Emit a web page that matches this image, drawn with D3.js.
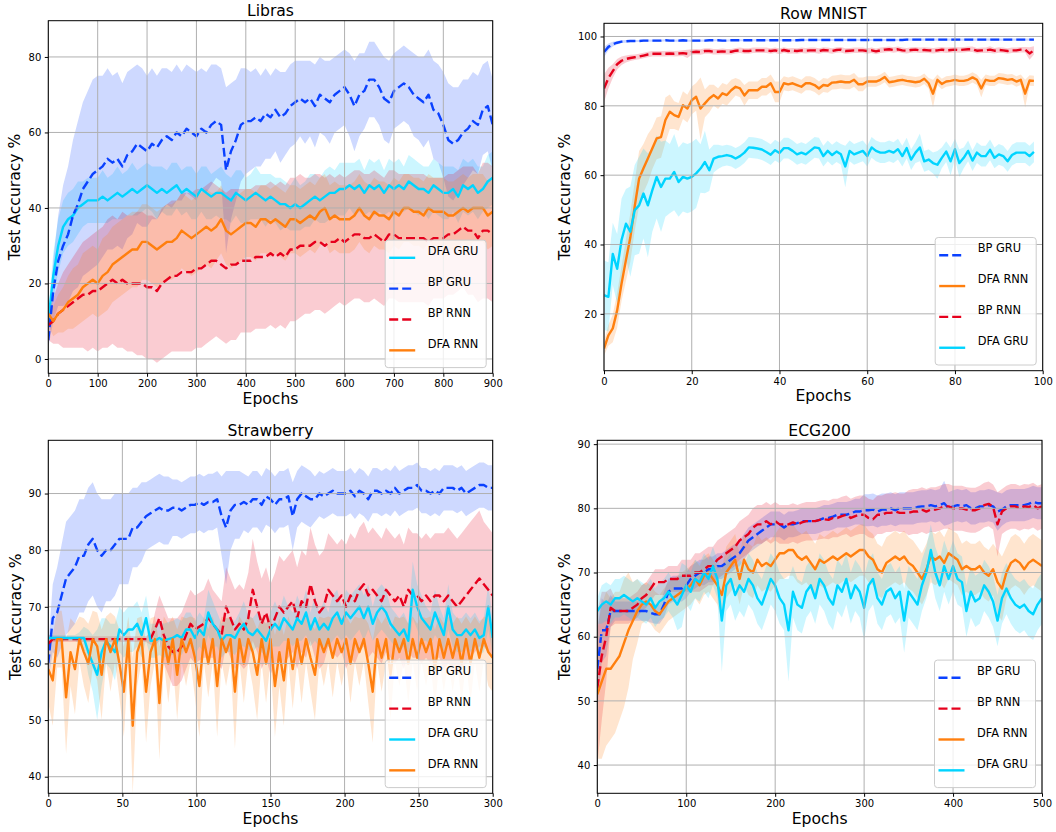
<!DOCTYPE html>
<html>
<head>
<meta charset="utf-8">
<title>DFA vs BP - test accuracy</title>
<script src="https://d3js.org/d3.v7.min.js"></script>
<style>
  body { margin: 0; background: #fff; }
  svg text { font-family: "DejaVu Sans", sans-serif; }
</style>
</head>
<body>
<svg id="chart" width="1056" height="832"></svg>
<script>
// ---------- Libras (one value every 10 epochs) ----------
var librasEpochs = d3.range(0, 901, 10);
var librasXTicks = [0, 100, 200, 300, 400, 500, 600, 700, 800, 900];
var librasYTicks = [0, 20, 40, 60, 80];
var librasBpGru = [5,18,26,30,33,38,41,45,47,49, 50,51,53,52,53,51,54,55,57,56, 55,57,56,58,59,58,60,59,61,60,
  59,61,60,62,63,62,50,55,58,62, 63,63,64,63,65,64,66,64,65,67, 68,69,68,69,67,70,69,68,70,71,
  72,70,67,70,71,74,74,72,69,68, 71,72,73,72,70,69,68,70,66,65, 62,58,57,58,60,61,63,62,66,67, 62];
var librasBpGruSd = [2,8,12,16,18,20,22,23,24,25, 25,24,24,23,23,22,22,22,21,21, 20,20,19,19,18,18,18,17,17,17,
  17,16,16,16,15,15,22,18,16,15, 14,13,13,12,12,11,11,12,11,11, 11,10,11,10,11,10,10,11,10,10,
  10,11,12,11,10,10,10,10,11,11, 10,10,10,10,11,11,12,12,13,13, 14,15,15,14,14,13,13,13,12,12, 12];
var librasDfaGru = [10,22,30,35,37,38,40,41,42,42, 42,43,42,43,44,43,44,45,44,45, 46,45,44,45,44,45,46,44,45,44,
  43,45,44,43,44,44,43,42,44,43, 42,43,44,43,42,43,42,41,41,40, 41,40,41,42,43,42,43,44,44,45,
  45,46,45,46,44,46,45,46,44,46, 45,46,45,47,46,45,45,44,46,45, 44,44,45,43,46,45,46,44,45,47, 48];
var librasDfaGruSd = [3,6,7,7,7,7,7,6,6,6, 6,7,6,6,7,6,6,7,6,6, 6,6,7,6,6,7,6,6,6,7,
  6,6,7,6,6,7,6,6,6,7, 6,6,7,6,7,6,6,7,6,6, 7,6,6,7,6,6,7,7,6,7,
  7,6,7,7,6,7,7,7,6,7, 7,7,6,7,7,7,6,7,7,7, 7,7,6,7,7,7,7,7,6,7, 7];
var librasBpRnn = [9,10,12,13,14,15,16,17,17,18, 18,19,20,21,20,21,20,20,20,20, 19,19,18,20,21,22,22,23,23,23,
  24,24,25,26,26,25,24,25,25,26, 26,26,27,27,27,28,27,28,27,29, 29,30,30,30,31,31,30,31,31,32,
  31,32,33,33,32,32,33,32,31,33, 33,32,32,32,32,32,32,31,32,32, 32,33,33,34,35,34,34,32,34,34, 33];
var librasBpRnnSd = [4,6,8,10,11,12,13,14,15,15, 16,16,17,17,17,18,18,18,19,19, 19,19,19,20,20,20,20,21,21,21,
  21,21,21,21,20,20,20,20,20,19, 19,19,19,19,19,19,19,19,19,19, 19,19,18,18,18,18,18,18,17,17,
  17,17,17,17,17,17,17,17,17,17, 17,17,17,17,17,17,17,17,16,16, 16,16,16,16,16,17,17,17,18,18, 18];
var librasDfaRnn = [12,10,12,13,15,16,17,19,20,21, 20,22,23,25,26,27,28,29,29,31, 31,30,29,30,31,31,32,34,33,32,
  33,34,35,34,35,37,34,33,34,35, 36,36,35,37,37,36,37,36,35,37, 37,36,37,38,37,39,40,37,38,37,
  37,37,38,40,38,37,39,38,38,37, 39,38,40,40,39,39,38,40,39,39, 39,38,38,39,40,39,40,40,40,38, 39];
var librasDfaRnnSd = [3,4,5,6,7,8,8,9,9,9, 9,10,10,10,10,10,10,10,10,10, 10,10,10,10,10,10,10,10,10,10,
  10,10,10,10,9,9,9,9,9,9, 9,9,9,9,9,9,9,9,9,9, 9,9,9,9,9,9,9,9,9,9,
  9,9,9,9,9,9,9,9,9,9, 9,9,9,9,9,9,9,9,9,9, 9,9,9,9,9,9,9,9,9,9, 9];

// ---------- Row MNIST (every epoch) ----------
var mnistEpochs = d3.range(0, 99);
var mnistXTicks = [0, 20, 40, 60, 80, 100];
var mnistYTicks = [20, 40, 60, 80, 100];
var mnistBpGru = [95.5,97,97.8,98.2,98.5,98.6,98.7,98.7,98.7,98.8, 98.8,98.8,98.8,98.8,98.9,98.8,98.8,98.8,98.9,98.8,
  98.8,98.8,98.8,98.8,98.9,98.9,98.9,98.8,98.8,98.9, 98.9,98.9,98.9,98.9,98.9,98.9,98.9,98.9,98.9,98.9,
  98.9,98.9,98.9,98.9,98.9,99,99,99,99,99, 99,99,99,99,99,99,99,99,99,99,
  99,99,99,99,99,99,99,99,99,99.1, 99.1,99.1,99.1,99.1,99.1,99.1,99.1,99.1,99.1,99.1,
  99.1,99.1,99.1,99.1,99.1,99.1,99.1,99.1,99.1,99.1, 99.1,99.1,99.1,99.1,99.1,99.1,99.1,99.1,99.1];
var mnistBpGruSd = [1.5,1,0.7,0.5,0.4,0.4,0.3,0.3,0.3,0.3, 0.3,0.3,0.3,0.3,0.3,0.3,0.3,0.3,0.3,0.3,
  0.3,0.3,0.3,0.3,0.3,0.3,0.3,0.3,0.3,0.3, 0.3,0.3,0.3,0.3,0.3,0.3,0.3,0.3,0.3,0.3,
  0.3,0.3,0.3,0.3,0.3,0.3,0.3,0.3,0.3,0.3, 0.3,0.3,0.3,0.3,0.3,0.3,0.3,0.3,0.3,0.3,
  0.3,0.3,0.3,0.3,0.3,0.3,0.3,0.3,0.3,0.3, 0.3,0.3,0.3,0.3,0.3,0.3,0.3,0.3,0.3,0.3,
  0.3,0.3,0.3,0.3,0.3,0.3,0.3,0.3,0.3,0.3, 0.3,0.3,0.3,0.3,0.3,0.3,0.3,0.3,0.3];
var mnistBpRnn = [85,88,90,92,93,93.5,93.8,94,94.2,94.5, 94.8,95,95,95,95,95.1,95,95.1,95.2,95,
  95.5,95.6,95.5,95.8,95.8,95.6,95.6,95.7,95.6,95.6, 95.9,96,95.8,95.8,96,96,96,96,95.8,96,
  95.7,96.1,95.8,95.9,95.8,96,95.9,96,96,95.8, 96.1,96,95.8,96.1,96.2,95.8,95.9,96,96,96,
  95.8,96,95.7,96,96.2,96.3,96.1,96.3,96,95.9, 96.1,96.2,96,96.1,96,95.9,96,96.2,96,96.1,
  96.2,96.1,96.2,96.3,96.3,95.9,96,96,96.2,95.9, 96.1,96,95.8,96,96,96.2,96.2,95.1,96];
var mnistBpRnnSd = [4,3,2,1.5,1.2,1,0.9,0.8,0.8,0.8, 0.8,0.8,0.8,0.8,0.8,0.8,0.8,0.8,0.8,1.2,
  0.8,0.8,0.8,0.8,0.8,0.8,0.8,0.8,0.8,0.8, 0.8,0.8,0.8,0.8,0.8,0.8,0.8,0.8,0.8,0.8,
  0.8,0.8,0.8,0.8,0.8,0.8,0.8,0.8,0.8,0.8, 0.8,0.8,0.8,0.8,0.8,0.8,0.8,0.8,0.8,0.8,
  0.8,0.8,0.8,0.8,0.8,0.8,0.8,0.8,0.8,0.8, 0.8,0.8,0.8,0.8,0.8,0.8,0.8,0.8,0.8,0.8,
  0.8,0.8,0.8,0.8,0.8,0.8,0.8,0.8,1,0.8, 0.8,0.8,0.8,0.8,0.8,0.8,0.8,1.8,1.2];
var mnistDfaRnn = [10,13.8,15.8,21,28.7,35.5,42,51,59,62, 64.8,67.7,70.6,71,75.9,78.3,77.3,76.8,80.2,79.2,
  81.6,82.6,79.2,80.7,82.1,83.1,82.1,83.6,83.1,84.5, 85.5,85,83,84.5,84.5,84.5,85.5,85.5,86.5,84,
  84,86.5,86.2,86.5,86,85.5,86.5,86.5,86,85, 86,85.8,86.7,86.8,87,86.8,86.8,87.5,86.2,86.2,
  87,87,87,87.5,88.3,86.8,87,87.3,87.5,87.2, 87,86.8,87,87.8,86.5,83.5,87.5,86.3,87,87.2,
  87.5,87.2,87.2,87.5,88.2,87.5,85,87.5,87.2,87.2, 88,87.8,87.5,87.7,87,87.5,83.5,87.3,87.2];
var mnistDfaRnnSd = [2,3,4,5,5,6,7,7,8,7, 7,6,6,6,6.5,5,4,4,4,4, 4,4,9,4,4,3,3,3,3,3,
  2.5,2.5,3,2.5,2.5,2.5,2.5,2.5,2.5,3, 3,2,2,2,2,2,2,2,2,2, 2,2,2,2,2,2,2,2,2,2,
  1.5,1.5,1.5,1.5,1.5,1.5,1.5,1.5,1.5,1.5, 1.5,1.5,1.5,1.5,1.5,4,1.5,1.5,1.5,1.5,
  1.5,1.5,1.5,1.5,1.5,1.5,2.5,1.5,1.5,1.5, 1.5,1.5,1.5,1.5,1.5,1.5,4,1.5,1.5];
var mnistDfaGru = [25.4,24.9,37.3,33,41.3,46,43.7,49.9,51.3,54.7, 51.3,55.6,59.5,56.6,59,59,60.9,58,59.5,59,
  59.5,60.5,61.9,63.8,61.4,64.8,65.3,65.5,65.8,65.5, 64.8,65.5,66.5,68,67.9,67.7,67.4,66.7,65.9,67.2,
  66.4,67.8,67.8,67,66,66.5,66,67,68,67.8, 65.5,67,65.8,66.8,66,62.5,67,66,66.5,67,
  65.5,68,67,66.5,66.5,67,66.5,67.5,65.5,67.8, 64.5,66.5,68,64,64.5,63.5,63,65,66.8,64,
  67.5,63.5,65,67,64.2,66.5,65.5,65.5,67.3,65, 66,65.5,64,65.8,66.5,66.5,66.5,65.5,66.7];
var mnistDfaGruSd = [10,10,9,10,12,10,13,13,14,13, 15,12,12,13,11,10,11,10,10,10, 10,10,7,9,6,4,3.5,3,3,3,
  3,3,3,3,3,3,3,3,3,3, 3,3,3,3,3,3,3,3,3,3, 3,3,3,3,3,6,3,3,3,3,
  3,3,3,3,3,3,3,3,3,3, 3,3,4,3,3,3,4,3,3,4, 3,4,3,3,3,3,3,3,3,3, 3,3,3,3,3,3,3,3,3];

// ---------- Strawberry (every 3 epochs) ----------
var strawEpochs = d3.range(0, 301, 3);
var strawXTicks = [0, 50, 100, 150, 200, 250, 300];
var strawYTicks = [40, 50, 60, 70, 80, 90];
var strawBpGru = [60,68,69,72,75,76,77,79,79,81, 82,80,79,80,80,81,82,82,82,84, 84,85,86,86.5,87,87.5,87,87,87.5,87.5,
  87,87.5,88,88,88.5,88,88.5,88.5,89,86, 84,87,88,88,88.5,88,89,89,88,89.5, 89,88,89,89,89.5,86,89,90,89.5,89,
  89,90,89.5,90,90.5,90,90,90,90.5,89.5, 90.5,90,89,90.5,90.5,90,90.5,90,91,90, 90.5,91,91,91.5,90.5,90.5,90,90.5,90,91,
  91,91,90.5,91,90,90.5,91,91.5,91.5,91, 91];
var strawBpGruSd = [3,6,8,9,10,10,10,10,10,10, 10,10,10,9,9,9,8,8,8,7, 7,7,6,6,6,6,6,6,5,5,
  5,5,5,5,5,5,5,5,5,7, 10,7,6,6,5,5,5,5,5,5, 5,5,5,5,5,6,5,5,5,5,
  4,4,4,4,4,4,4,4,4,4, 4,4,4,4,4,4,4,4,4,4, 4,4,4,4,4,4,4,4,4,4,
  4,4,4,4,4,4,4,4,4,4, 4];
var strawBpRnn = [63.5,64.3,64.3,64.3,64.3,64.3,64.3,64.3,64.3,64.3, 64.3,64.3,64.3,64.3,64.3,64.3,64.3,64.3,64.3,64.3,
  64.3,64.3,64.3,64.3,66,68,65,63,62,62, 63,65,67,66,66.5,67,68,67,66,65, 70,68,66,67,66,68,73,70,67,69,
  66,68,70,69,70,71,68,71,70,74, 71,69,70,73,72,71,72,70,72,71, 73,74,72,73,72,71,73,72,71,72,
  70,73,72,72,71,72,71,72,72,71, 72,71,70,71,72,73,74,75,74,73, 72];
var strawBpRnnSd = [0.5,0.5,0.5,0.5,0.5,0.5,0.5,0.5,0.5,0.5, 0.5,0.5,0.5,0.5,0.5,0.5,0.5,0.5,0.5,0.5,
  0.5,0.5,0.5,1,3,4,5,5,6,6, 6,6,6,6,6,6,7,6,6,6, 7,7,7,7,7,8,9,8,8,8,
  8,8,9,9,9,9,9,9,9,10, 10,10,10,10,10,10,10,11,11,11, 11,11,11,11,11,11,11,11,11,11,
  11,11,11,11,11,11,11,11,11,12, 12,12,12,12,12,12,12,12,11,11, 11];
var strawDfaGru = [64.5,64.5,64.5,64.5,64.5,64.5,64.5,64.5,64.5,62, 60,58,62,64,63,62,66,65,66,66,
  67,65,68,64,64,64.5,64,64.3,64.5,65, 64.5,66,66,64.5,66,65,69,67,66,64, 65,65,64.5,66,67,65.5,65,66,65,64,
  66,67,66,68,67,66,68,67,69,66, 68,66,67,66,68,69,67,69,68,69, 70,68,70,67,69,70,69,67,66,65,
  66,64,73,70,68,67,66,69,67,65, 70,66,65,65,66,65,66,64.5,65,70, 64.5];
var strawDfaGruSd = [0.5,0.5,0.5,0.5,0.5,0.5,0.5,1,2,4, 5,8,6,4,4,5,4,4,4,4, 4,4,4,3,3,3,3,3,3,3,
  3,3,3,3,3,3,4,4,3,3, 3,3,3,3,4,3,3,3,3,3, 3,4,3,4,3,3,4,3,4,3,
  4,3,4,3,4,4,3,4,4,4, 4,4,4,3,4,4,4,3,3,3, 3,3,5,4,4,3,3,4,3,3,
  4,3,3,3,3,3,3,3,3,4, 3];
var strawDfaRnn = [59,57,64.3,64.3,54,62,59,64.3,62,60, 64.3,63,58,64.3,62,64.3,60,55,64.3,49,
  62,64.3,55,62,64.3,53,64.3,60,64.3,58, 64.3,62,64.3,61,56,64.3,60,64.3,56,64.3,
  62,64.3,55,64.3,60,64.3,62,58,64.3,60, 64.3,56,62,57,64.3,59,64.3,60,64.3,61,
  58,64.3,62,64.3,61,64.3,62,64.3,60,64.3, 62,64.3,60,55,64.3,61,64.3,58,64.3,62,
  64.3,60,64.3,61,64.3,62,64.3,59,64.3,61, 64.3,61,64.3,60,64.3,60,64.3,61,64.3,62, 61];
var strawDfaRnnSd = [6,8,5,5,10,6,8,4,6,7, 5,6,8,4,7,4,6,8,4,12, 6,4,9,6,4,10,4,7,4,8,
  4,6,4,7,9,4,6,4,9,4, 6,4,10,4,7,4,6,8,4,7, 4,9,6,8,4,7,4,7,4,6,
  8,4,6,4,7,4,6,4,7,4, 6,4,7,9,4,6,4,8,4,6, 4,7,4,6,4,6,4,7,4,6,
  4,6,4,7,4,7,4,6,4,6, 6];

// ---------- ECG200 (every 5 epochs) ----------
var ecgEpochs = d3.range(0, 501, 5);
var ecgXTicks = [0, 100, 200, 300, 400, 500];
var ecgYTicks = [40, 50, 60, 70, 80, 90];
var ecgBpGru = [55,61,61,64,64,64,64,64,64,64, 64,64,63.7,63.5,63.5,65,67,67.5,67.5,67.5,
  68,69,69.5,70,70,70.5,70.5,71,71,71.5, 72,72.5,73,74,75,75.5,76,76.5,77,77.5,
  77.5,77.5,77,77.5,77.5,77.7,78,78,78,78, 78.2,78.5,78.5,78.7,79,79,79,79.2,79.5,79.5,
  79.7,79.7,79.8,79.5,79.8,79.8,80,79.7,80,80, 80,80,80.2,80.3,80.3,80.5,80.3,80.5,80.8,80,
  80.3,80.5,80.3,80.5,80,80,80.3,80.3,80.5,80.3, 79.5,79.8,80.3,80.5,80.5,80.5,80.5,80.7,81,80.8, 80.8];
var ecgBpGruSd = [6,5,4,2.5,1.5,1.5,1.5,1.5,1.5,1.5, 1.5,1.5,1.5,1.5,1.5,2,2,2,2,2,
  2,2,2,2,2,2,2,2,2,2, 2,2,2,2,2,2,2,2,2,2, 2,2,2,2,2,2,2,2,2,2,
  2,2,2,2,2,2,2,2,2,2, 2.5,2.5,2.5,2.5,2.5,2.5,2.5,2.5,2.5,2.5, 2.5,2.5,2.5,2.5,2.5,2.5,2.5,2.5,3.5,2.5,
  2.5,2.5,2.5,2.5,2.5,2.5,2.5,2.5,2.5,2.5, 3,2.5,2.5,2.5,2.5,2.5,2.5,2.5,2.5,2.5, 2.5];
var ecgBpRnn = [52,57,60,64.5,64,64,64,64,64.5,65, 66,66.5,67.5,68.5,68.5,68.5,69,69,69,69.5,
  69.5,69.5,70,70,70.5,71,71,72,72.5,73, 73.5,74,75,75.5,76,77,77.5,77.5,78,77.5,
  78,77.5,77.5,77.5,77.8,77.5,77.8,78,78,78, 78.2,78.3,78.2,78.5,78.5,78.8,79,78.5,78.8,79,
  79,78.5,78.3,79,79,79.3,79.3,79.5,79.3,79.3, 79.3,79.5,79.5,79.8,79.5,79.8,79.8,80,80.3,80.3,
  80,80,80,79.8,79.7,79.7,80,80.5,80.7,80.2, 77.5,79.5,80,80.3,80.3,80,80.3,80.2,80.5,80, 80.3];
var ecgBpRnnSd = [12,10,7,3,2,2,2,2,2,2, 2,2,2,2,2,2,2,2,2,2.5, 2.5,2.5,3,3,3,3,3,3,3,3,
  3,3,3,3,3,3,3,3,3,3, 3,3,3,3,3,3,3,3,3,3, 3,3,3,3,3,3,3,3,3,3,
  3,3,3,3,3,3,3,3,3,3, 3.5,3.5,3.5,3.5,3.5,3.5,3.5,3.5,3.5,3.5, 3.5,3.5,3.5,3.5,3.5,3.5,3.5,3.5,3.5,3.5,
  5,3.5,3.5,3.5,3.5,3.5,3.5,3.5,3.5,3.5, 3.5];
var ecgDfaRnn = [51,53,55,55,56,57,59,61,62.5,64, 65,65.5,65,64,63.5,64.5,65.5,66,66.5,67,
  67.5,68,69,68,69.5,70,69,68,66.5,70, 71,72,69,72,70.5,70,72,71,71.5,71,
  72,73,73,73.5,73.5,72.5,72,72.5,71.5,70.5, 72,71.5,72,72.5,72,72.5,73,72.5,73,73.5,
  73.5,72.5,72,70.5,70,71.5,72,72.5,72,72.5, 71.5,71,70,69,70.5,72.5,72,72.5,71.5,73,
  72.5,72,70.5,71,70.5,70.5,71,70,69.5,70.5, 68.5,67.5,70,71.5,72,71.5,70.5,71.5,72,71.5, 71];
var ecgDfaRnnSd = [10,12,12,11,11,10,10,9,6,5, 3,3,3,3,3,3,3,3,3,3, 3,3,3,3,3,3,3,3,4,4,
  4,4,4,4,4,4,4,4,4,4, 4,4,4,4,4,4,4,4,4,4, 4,4,4,4,4,4,4,4,4,4,
  4,4,4,4,4,4,4,4,4,4, 4,4,4,4,4,4,4,4,4,4, 4,4,4,4,4,4,4,4,4,4,
  5,5,4,4,4,4,4,4,4,4, 4];
var ecgDfaGru = [64,65,65.5,65,66,66,66.5,66,65.5,66, 65.5,65,66,64.5,65.5,66,67,66,65,66.5,
  68,67,69,68.5,70,69,71,69,62.5,68, 69,66.5,68,67,69,68,66,65,67,69,
  68,66,65,61,67,65,64.5,67,68,66, 69,68,66,65,68,67,69,66,68,67,
  64.5,68,69,66,65,67,67.5,66,67,62.5, 67,66,65,68,70,73.5,70,68,71,69,
  71,69,68.5,64,67,65.5,66,68,67,65.5, 62.5,66,67.5,66,65,64.5,65,64,63.5,65, 66];
var ecgDfaGruSd = [2,3,3,3,3,3,3,3,3,3, 3,3,3,3,3,3,3,3,4,5, 3,3,3,3,3,3,3,3,8,4,
  4,4,4,4,4,4,4,4,4,4, 4,4,4,8,4,4,4,4,4,4, 4,4,4,4,4,4,4,4,4,4,
  5,4,4,4,4,4,4,4,4,5, 4,4,4,4,4,4,4,4,4,4, 4,4,4,4,4,4,4,4,4,4,
  4,4,4,4,4,4,4,4,4,4, 4];

// ---------- styling ----------
var colors = {
  "BP GRU": "#0a41ff",
  "DFA GRU": "#00d4ff",
  "BP RNN": "#e6001c",
  "DFA RNN": "#ff7f0e"
};
var dashed = { "BP GRU": true, "BP RNN": true, "DFA GRU": false, "DFA RNN": false };

var panels = [
  { title: "Libras", rect: [48.3, 20.7, 492.7, 373.3], xDomain: [0, 900], yDomain: [-3.8, 89.6],
    xTicks: librasXTicks, yTicks: librasYTicks, ylabX: 20, epochs: librasEpochs,
    series: [
      { name: "DFA GRU", mean: librasDfaGru, sd: librasDfaGruSd },
      { name: "BP GRU", mean: librasBpGru, sd: librasBpGruSd },
      { name: "BP RNN", mean: librasBpRnn, sd: librasBpRnnSd },
      { name: "DFA RNN", mean: librasDfaRnn, sd: librasDfaRnnSd }
    ] },
  { title: "Row MNIST", rect: [604, 23.3, 1042.7, 370.7], xDomain: [0, 100], yDomain: [3.6, 103.8],
    xTicks: mnistXTicks, yTicks: mnistYTicks, ylabX: 569.5, epochs: mnistEpochs,
    series: [
      { name: "BP GRU", mean: mnistBpGru, sd: mnistBpGruSd },
      { name: "DFA RNN", mean: mnistDfaRnn, sd: mnistDfaRnnSd },
      { name: "BP RNN", mean: mnistBpRnn, sd: mnistBpRnnSd },
      { name: "DFA GRU", mean: mnistDfaGru, sd: mnistDfaGruSd }
    ] },
  { title: "Strawberry", rect: [48.3, 440.3, 492.7, 793.3], xDomain: [0, 300], yDomain: [37.07, 99.4],
    xTicks: strawXTicks, yTicks: strawYTicks, ylabX: 21, epochs: strawEpochs,
    series: [
      { name: "BP GRU", mean: strawBpGru, sd: strawBpGruSd },
      { name: "BP RNN", mean: strawBpRnn, sd: strawBpRnnSd },
      { name: "DFA GRU", mean: strawDfaGru, sd: strawDfaGruSd },
      { name: "DFA RNN", mean: strawDfaRnn, sd: strawDfaRnnSd }
    ] },
  { title: "ECG200", rect: [597.3, 440.3, 1042, 793.3], xDomain: [0, 500], yDomain: [35.6, 90.6],
    xTicks: ecgXTicks, yTicks: ecgYTicks, ylabX: 569.5, epochs: ecgEpochs,
    series: [
      { name: "BP GRU", mean: ecgBpGru, sd: ecgBpGruSd },
      { name: "BP RNN", mean: ecgBpRnn, sd: ecgBpRnnSd },
      { name: "DFA RNN", mean: ecgDfaRnn, sd: ecgDfaRnnSd },
      { name: "DFA GRU", mean: ecgDfaGru, sd: ecgDfaGruSd }
    ] }
];

var svg = d3.select("#chart");
var defs = svg.append("defs");

function drawPanel(p, k) {
  var left = p.rect[0], top = p.rect[1], right = p.rect[2], bottom = p.rect[3];
  var x = d3.scaleLinear().domain(p.xDomain).range([left, right]);
  var y = d3.scaleLinear().domain(p.yDomain).range([bottom, top]);
  var g = svg.append("g");

  defs.append("clipPath").attr("id", "clip" + k)
    .append("rect")
    .attr("x", left).attr("y", top)
    .attr("width", right - left).attr("height", bottom - top);

  var plot = g.append("g").attr("clip-path", "url(#clip" + k + ")");

  // shaded std bands
  p.series.forEach(function(s) {
    var band = d3.area()
      .x(function(d, i) { return x(p.epochs[i]); })
      .y0(function(d, i) { return y(d - (s.sd[i] || 0)); })
      .y1(function(d, i) { return y(d + (s.sd[i] || 0)); });
    plot.append("path")
      .datum(s.mean)
      .attr("d", band)
      .attr("fill", colors[s.name])
      .attr("fill-opacity", 0.2)
      .attr("stroke", "none");
  });

  // grid
  g.append("g").selectAll("line.vx")
    .data(p.xTicks).enter().append("line")
    .attr("x1", function(d) { return x(d); })
    .attr("x2", function(d) { return x(d); })
    .attr("y1", top).attr("y2", bottom)
    .attr("stroke", "#b0b0b0").attr("stroke-width", 1);
  g.append("g").selectAll("line.hy")
    .data(p.yTicks).enter().append("line")
    .attr("x1", left).attr("x2", right)
    .attr("y1", function(d) { return y(d); })
    .attr("y2", function(d) { return y(d); })
    .attr("stroke", "#b0b0b0").attr("stroke-width", 1);

  // mean lines
  p.series.forEach(function(s) {
    var line = d3.line()
      .x(function(d, i) { return x(p.epochs[i]); })
      .y(function(d) { return y(d); });
    plot.append("path")
      .datum(s.mean)
      .attr("d", line)
      .attr("fill", "none")
      .attr("stroke", colors[s.name])
      .attr("stroke-width", 2.4)
      .attr("stroke-linejoin", "round")
      .attr("stroke-dasharray", dashed[s.name] ? "9,4" : null);
  });

  // axes
  var xAxis = d3.axisBottom(x).tickValues(p.xTicks).tickSize(3.5).tickPadding(3.5).tickFormat(d3.format("d"));
  var yAxis = d3.axisLeft(y).tickValues(p.yTicks).tickSize(3.5).tickPadding(3.5).tickFormat(d3.format("d"));
  g.append("g")
    .attr("transform", "translate(0," + bottom + ")")
    .attr("font-size", 12.5).attr("font-family", "DejaVu Sans")
    .call(xAxis)
    .call(function(a) { a.select(".domain").remove(); a.selectAll("text").attr("fill", "#000"); });
  g.append("g")
    .attr("transform", "translate(" + left + ",0)")
    .attr("font-size", 12.5).attr("font-family", "DejaVu Sans")
    .call(yAxis)
    .call(function(a) { a.select(".domain").remove(); a.selectAll("text").attr("fill", "#000"); });

  // spines
  g.append("rect")
    .attr("x", left).attr("y", top)
    .attr("width", right - left).attr("height", bottom - top)
    .attr("fill", "none").attr("stroke", "#000").attr("stroke-width", 1);

  // title and axis labels
  g.append("text")
    .attr("x", (left + right) / 2).attr("y", top - 4.7)
    .attr("text-anchor", "middle").attr("font-size", 15.6)
    .text(p.title);
  g.append("text")
    .attr("x", (left + right) / 2).attr("y", bottom + 30.5)
    .attr("text-anchor", "middle").attr("font-size", 15.6)
    .text("Epochs");
  g.append("text")
    .attr("transform", "translate(" + p.ylabX + "," + ((top + bottom) / 2) + ") rotate(-90)")
    .attr("text-anchor", "middle").attr("font-size", 15.6)
    .text("Test Accuracy %");

  // legend
  var lw = 101, lh = 127.5;
  var lx = right - 6.5 - lw, ly = bottom - 5.7 - lh;
  var leg = g.append("g");
  leg.append("rect")
    .attr("x", lx).attr("y", ly).attr("width", lw).attr("height", lh)
    .attr("rx", 3)
    .attr("fill", "#fff").attr("fill-opacity", 0.8)
    .attr("stroke", "#cccccc").attr("stroke-width", 1);
  p.series.forEach(function(s, i) {
    var yy = ly + 17.7 + i * 30.85;
    leg.append("line")
      .attr("x1", lx + 4).attr("x2", lx + 30)
      .attr("y1", yy).attr("y2", yy)
      .attr("stroke", colors[s.name]).attr("stroke-width", 2.4)
      .attr("stroke-dasharray", dashed[s.name] ? "9,4" : null);
    leg.append("text")
      .attr("x", lx + 42.5).attr("y", yy - 2.8)
      .attr("font-size", 11.4)
      .text(s.name);
  });
}

panels.forEach(drawPanel);
</script>
</body>
</html>
